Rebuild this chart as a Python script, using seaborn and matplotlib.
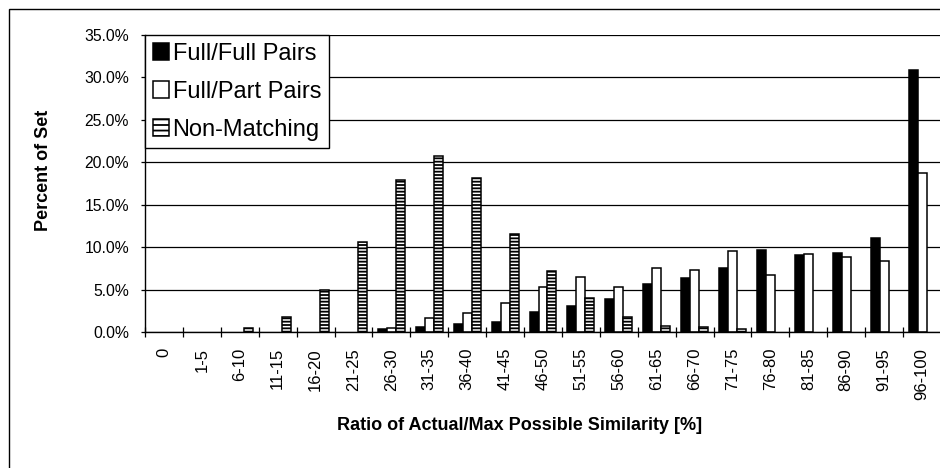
import matplotlib
matplotlib.use("Agg")
import matplotlib.pyplot as plt
import matplotlib.patches as mpatches
from matplotlib.ticker import FuncFormatter, FixedLocator
import pandas as pd
import seaborn as sns

# --- Data (percent of set per similarity-ratio bin) ---
bins = ["0", "1-5", "6-10", "11-15", "16-20", "21-25", "26-30", "31-35", "36-40",
        "41-45", "46-50", "51-55", "56-60", "61-65", "66-70", "71-75", "76-80",
        "81-85", "86-90", "91-95", "96-100"]
full_full = [0, 0, 0, 0, 0, 0, 0.3, 0.6, 1.0, 1.2, 2.3, 3.1, 3.9, 5.7, 6.4, 7.6,
             9.7, 9.1, 9.3, 11.1, 30.9]
full_part = [0, 0, 0, 0, 0, 0, 0.5, 1.6, 2.2, 3.4, 5.3, 6.5, 5.3, 7.6, 7.35, 9.5,
             6.7, 9.2, 8.8, 8.4, 18.7]
non_matching = [0, 0, 0.5, 1.8, 4.95, 10.65, 17.9, 20.7, 18.2, 11.5, 7.2, 4.0, 1.8,
                0.75, 0.55, 0.35, 0, 0, 0, 0, 0]
series_names = ["Full/Full Pairs", "Full/Part Pairs", "Non-Matching"]

df = pd.DataFrame({
    "bin": bins * 3,
    "series": [series_names[0]] * len(bins) + [series_names[1]] * len(bins)
              + [series_names[2]] * len(bins),
    "value": full_full + full_part + non_matching,
})

sns.set_theme(style="white")
plt.rcParams["font.family"] = ["Liberation Sans", "DejaVu Sans"]
plt.rcParams["text.color"] = "black"
plt.rcParams["hatch.linewidth"] = 1.3
plt.rcParams["hatch.color"] = "black"

fig = plt.figure(figsize=(9.4, 4.68), dpi=100)
ax = fig.add_axes([145 / 940, 1 - 332 / 468, 796 / 940, 297 / 468])

sns.barplot(data=df, x="bin", y="value", hue="series", order=bins,
            hue_order=series_names, width=0.71, gap=0, ax=ax, legend=False)

# bar styles per series
styles = [
    dict(facecolor="black", edgecolor="black", hatch=None),
    dict(facecolor="white", edgecolor="black", hatch=None),
    dict(facecolor="white", edgecolor="black", hatch="-----"),
]
for cont, st in zip(ax.containers, styles):
    for p in cont.patches:
        p.set_facecolor(st["facecolor"])
        p.set_edgecolor(st["edgecolor"])
        p.set_linewidth(1.1)
        if st["hatch"]:
            p.set_hatch(st["hatch"])
        if p.get_height() == 0:
            p.set_visible(False)

# axes
ax.set_ylim(0, 35)
ax.set_yticks([0, 5, 10, 15, 20, 25, 30, 35])
ax.yaxis.set_major_formatter(FuncFormatter(lambda v, _: f"{v:.1f}%"))
ax.set_xlim(-0.5, len(bins) - 0.5)
ax.set_xlabel("")
ax.set_ylabel("")
ax.grid(axis="y", color="black", linewidth=0.9)
ax.set_axisbelow(True)
for s in ["top", "right"]:
    ax.spines[s].set_visible(False)
for s in ["left", "bottom"]:
    ax.spines[s].set_color("black")
    ax.spines[s].set_linewidth(1.0)

ax.tick_params(axis="y", direction="out", length=3, width=0.9, color="black",
               pad=8.5, labelsize=11.3, labelcolor="black", left=True)
ax.tick_params(axis="x", which="major", length=0, pad=11.5, labelsize=12,
               labelrotation=90, labelcolor="black", bottom=True)
ax.xaxis.set_minor_locator(FixedLocator([i - 0.5 for i in range(len(bins) + 1)]))
ax.tick_params(axis="x", which="minor", direction="inout", length=6.5, width=0.9,
               color="black", bottom=True)

# axis titles
fig.text(520 / 940, 1 - 425 / 468, "Ratio of Actual/Max Possible Similarity [%]",
         ha="center", va="center", fontsize=13, fontweight="bold", color="black")
fig.text(43 / 940, 1 - 170 / 468, "Percent of Set", ha="center", va="center",
         rotation=90, fontsize=13, fontweight="bold", color="black")

# legend
handles = [mpatches.Patch(facecolor=st["facecolor"], edgecolor="black",
                          hatch=st["hatch"] and "---", linewidth=1.1)
           for st in styles]
leg = ax.legend(handles, series_names, loc="upper left", bbox_to_anchor=(0, 1),
                borderaxespad=0, fontsize=17, handlelength=0.7, handleheight=0.7,
                handletextpad=0.15, labelspacing=0.68, borderpad=0.32,
                fancybox=False, framealpha=1, edgecolor="black")
leg.get_frame().set_linewidth(1.0)
for t in leg.get_texts():
    t.set_color("black")

# outer chart border (cropped at right/bottom like the source)
fig.add_artist(mpatches.Rectangle((9 / 940, -0.5), 2, (1 - 9 / 468) + 0.5,
                                  transform=fig.transFigure, fill=False,
                                  edgecolor="black", linewidth=1.0))

fig.savefig("out.png", dpi=100)
